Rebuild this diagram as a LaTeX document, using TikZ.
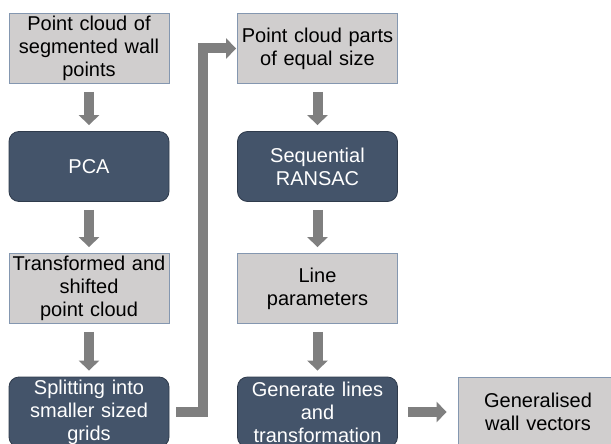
\documentclass[tikz,border=0pt]{standalone}
\usepackage{fontspec}
\setmainfont{Liberation Sans}
\usetikzlibrary{arrows.meta}

\definecolor{boxgray}{HTML}{D0CECE}
\definecolor{boxline}{HTML}{8497B0}
\definecolor{boxdark}{HTML}{44546A}
\definecolor{darkline}{HTML}{2F3B4C}
\definecolor{arrowgray}{HTML}{7F7F7F}

\tikzset{
  databox/.style={draw=boxline, fill=boxgray, line width=0.8pt, text width=160pt,
    minimum width=160pt, minimum height=70pt, inner sep=0pt, align=center,
    font=\fontsize{20}{23}\selectfont},
  stepbox/.style={databox, draw=darkline, fill=boxdark, text=white, rounded corners=10pt},
  flow/.style={draw=arrowgray, line width=10pt, line join=miter,
    -{Triangle[length=10pt,width=20pt]}, shorten <=8pt, shorten >=6pt}
}

\begin{document}
\begin{tikzpicture}[x=1pt, y=-1pt]
    \useasboundingbox (0,0) rectangle (611,444);

    % Linke Spalte
    \node[databox] (cloud) at (89,48.5) {Point cloud of\\segmented wall\\points};
    \node[stepbox] (pca) at (89,166.5) {PCA};
    \node[databox] (shifted) at (89,288.5) {Transformed and\\shifted\\point cloud};
    \node[stepbox] (split) at (89,412) {Splitting into\\smaller sized\\grids};

    % Rechte Spalte
    \node[databox] (parts) at (317.5,48.5) {Point cloud parts\\of equal size};
    \node[stepbox] (ransac) at (317.5,166.5) {Sequential\\RANSAC};
    \node[databox] (params) at (317.5,288.5) {Line\\parameters};
    \node[stepbox] (lines) at (317.5,412) {Generate lines\\and\\transformation};
    \node[databox] (vectors) at (538,412) {Generalised\\wall vectors};

    % Pfeile
    \draw[flow] (cloud) -- (pca);
    \draw[flow] (pca) -- (shifted);
    \draw[flow] (shifted) -- (split);
    \draw[flow, shorten <=7pt, shorten >=1pt] (split.east) -- ++(34,0) |- (parts.west);
    \draw[flow] (parts) -- (ransac);
    \draw[flow] (ransac) -- (params);
    \draw[flow] (params) -- (lines);
    \draw[flow, shorten <=10pt, shorten >=11pt] (lines) -- (vectors);
\end{tikzpicture}
\end{document}
